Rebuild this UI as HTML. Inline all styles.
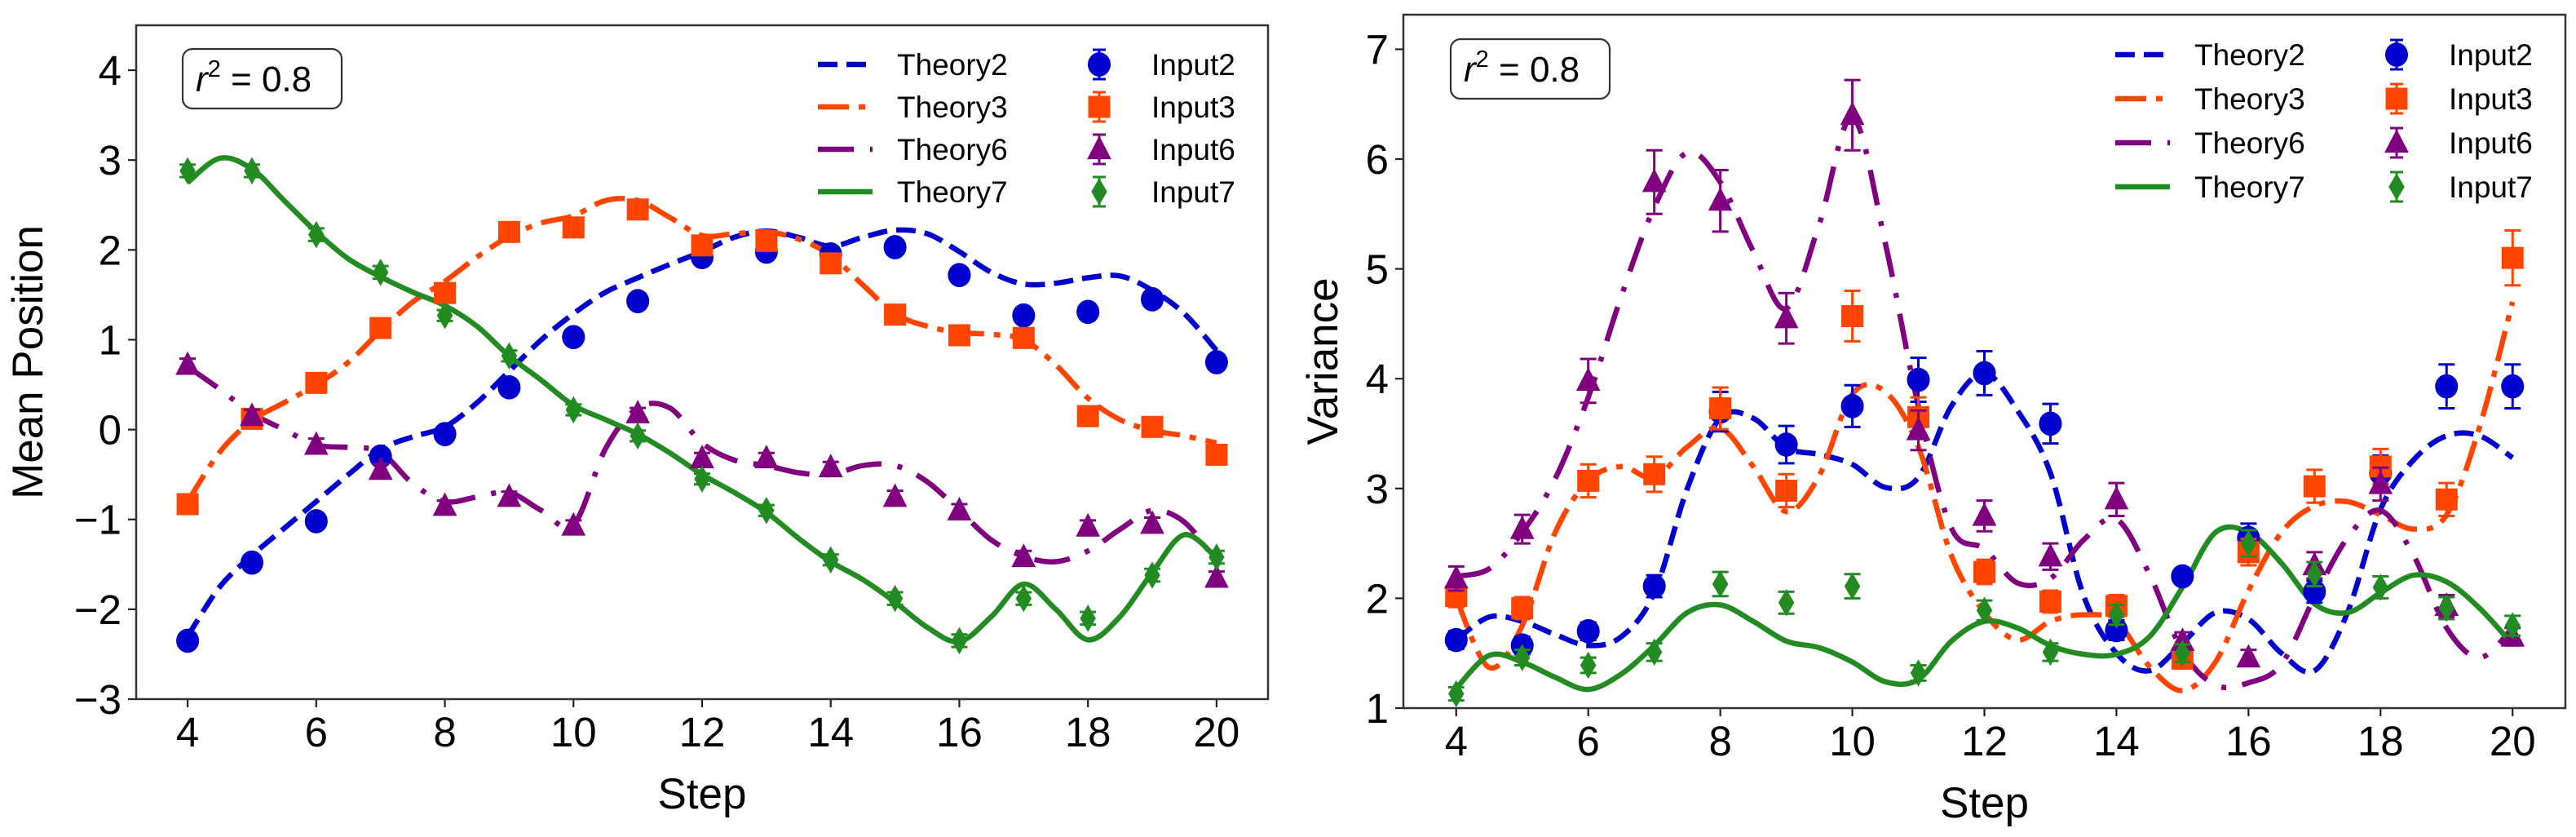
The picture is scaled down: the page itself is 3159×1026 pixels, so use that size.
<!DOCTYPE html>
<html><head><meta charset="utf-8"><style>
html,body{margin:0;padding:0;background:#fff;}
svg{display:block;font-family:"Liberation Sans",sans-serif;}
</style></head><body>
<svg id="fig" width="3159" height="1026" viewBox="0 0 3159 1026" xmlns="http://www.w3.org/2000/svg">
<rect width="3159" height="1026" fill="#fff"/>
</svg>
<script>
const steps = [4,5,6,7,8,9,10,11,12,13,14,15,16,17,18,19,20];
const fineSteps = [4,4.5,5,5.5,6,6.5,7,7.5,8,8.5,9,9.5,10,10.5,11,11.5,12,12.5,13,13.5,14,14.5,15,15.5,16,16.5,17,17.5,18,18.5,19,19.5,20];
const xTicks = [4,6,8,10,12,14,16,18,20];
const meanYTicks = [-3,-2,-1,0,1,2,3,4];
const varYTicks = [1,2,3,4,5,6,7];
const seriesNames = ["Theory2","Theory3","Theory6","Theory7"];
const inputNames = ["Input2","Input3","Input6","Input7"];

// Left panel: mean position
const meanInput2 = [-2.35,-1.48,-1.02,-0.3,-0.05,0.47,1.03,1.43,1.92,1.98,1.95,2.03,1.72,1.27,1.31,1.45,0.75];
const meanInput3 = [-0.83,0.12,0.52,1.13,1.52,2.2,2.25,2.45,2.05,2.1,1.85,1.28,1.05,1.02,0.15,0.03,-0.28];
const meanInput6 = [0.72,0.15,-0.17,-0.45,-0.85,-0.75,-1.07,0.18,-0.32,-0.32,-0.42,-0.75,-0.9,-1.42,-1.08,-1.05,-1.65];
const meanInput7 = [2.88,2.88,2.17,1.75,1.27,0.82,0.22,-0.07,-0.55,-0.9,-1.45,-1.88,-2.35,-1.88,-2.1,-1.62,-1.42];
const meanErr = [0.07,0.07,0.07,0.07,0.06,0.06,0.06,0.06,0.06,0.06,0.06,0.07,0.07,0.07,0.07,0.07,0.07];
const meanTheory2 = [-2.3,-1.75,-1.4,-1.1,-0.8,-0.5,-0.22,-0.08,0.03,0.3,0.65,1.0,1.29,1.53,1.69,1.84,1.98,2.14,2.21,2.14,2.04,2.14,2.22,2.18,1.98,1.75,1.62,1.63,1.69,1.71,1.55,1.29,0.88];
const meanTheory3 = [-0.8,-0.25,0.1,0.3,0.5,0.75,1.1,1.42,1.65,1.92,2.15,2.3,2.38,2.55,2.55,2.36,2.16,2.18,2.2,2.12,1.94,1.61,1.29,1.15,1.08,1.06,1.0,0.72,0.35,0.11,-0.01,-0.07,-0.15];
const meanTheory6 = [0.7,0.45,0.18,0.0,-0.17,-0.2,-0.25,-0.6,-0.8,-0.75,-0.7,-0.9,-1.06,-0.21,0.24,0.24,-0.15,-0.34,-0.4,-0.48,-0.5,-0.4,-0.4,-0.58,-0.9,-1.23,-1.41,-1.47,-1.35,-1.11,-0.9,-1.03,-1.47];
const meanTheory7 = [2.75,3.02,2.9,2.55,2.2,1.9,1.7,1.53,1.38,1.15,0.82,0.55,0.27,0.11,-0.05,-0.26,-0.5,-0.7,-0.92,-1.21,-1.47,-1.67,-1.92,-2.2,-2.36,-2.08,-1.72,-2.0,-2.34,-2.08,-1.59,-1.17,-1.43];

// Right panel: variance
const varInput2 = [1.62,1.57,1.7,2.11,3.7,3.4,3.75,3.99,4.05,3.59,1.71,2.2,2.55,2.06,3.14,3.93,3.93];
const varInput3 = [2.02,1.91,3.07,3.13,3.73,2.98,4.57,3.65,2.24,1.97,1.93,1.45,2.42,3.02,3.2,2.9,5.1];
const varInput6 = [2.18,2.63,3.98,5.79,5.62,4.55,6.4,3.53,2.75,2.38,2.9,1.61,1.46,2.3,3.04,1.93,1.65];
const varInput7 = [1.13,1.46,1.39,1.51,2.13,1.96,2.11,1.32,1.89,1.51,1.85,1.5,2.5,2.22,2.1,1.91,1.75];
const varErr2 = [0.08,0.08,0.08,0.1,0.18,0.17,0.19,0.2,0.2,0.18,0.09,0.07,0.13,0.1,0.16,0.2,0.2];
const varErr3 = [0.1,0.1,0.15,0.16,0.19,0.15,0.23,0.18,0.11,0.1,0.1,0.07,0.12,0.15,0.16,0.15,0.25];
const varErr6 = [0.11,0.13,0.2,0.29,0.28,0.23,0.32,0.18,0.14,0.12,0.15,0.08,0.07,0.12,0.15,0.1,0.08];
const varErr7 = [0.06,0.07,0.07,0.08,0.11,0.1,0.11,0.07,0.09,0.08,0.09,0.08,0.12,0.11,0.1,0.1,0.09];
const varTheory2 = [1.62,1.83,1.79,1.67,1.57,1.65,2.05,3.0,3.64,3.64,3.37,3.31,3.22,3.01,3.1,3.75,4.05,3.71,3.14,2.03,1.5,1.34,1.59,1.87,1.81,1.5,1.34,1.87,2.81,3.26,3.48,3.48,3.28];
const varTheory3 = [2.0,1.37,1.75,2.6,3.07,3.2,3.1,3.38,3.55,3.2,2.79,3.12,3.86,3.88,3.38,2.39,1.87,1.62,1.79,1.85,1.79,1.38,1.16,1.42,2.07,2.6,2.84,2.88,2.76,2.63,2.76,3.56,4.7];
const varTheory6 = [2.2,2.27,2.6,3.09,3.83,4.75,5.56,6.06,5.79,5.16,4.64,5.41,6.38,5.23,3.75,2.64,2.45,2.14,2.18,2.53,2.72,2.22,1.52,1.21,1.23,1.4,2.01,2.55,2.8,2.39,1.73,1.46,1.73];
const varTheory7 = [1.18,1.48,1.42,1.28,1.17,1.31,1.57,1.87,1.94,1.79,1.61,1.55,1.42,1.24,1.26,1.61,1.79,1.73,1.57,1.49,1.49,1.65,2.1,2.6,2.6,2.32,1.95,1.87,2.05,2.21,2.15,1.91,1.58];

const NS = "http://www.w3.org/2000/svg";
const fig = document.getElementById('fig');
const colors = ["#0000CD","#FF4500","#800080","#228B22"];
const dashes = ["24,11","38,12,8,12","44,20,6,20",""];
const markers = ["circle","square","triangle","diamond"];

function mk(tag, attrs, parent){
  const e = document.createElementNS(NS, tag);
  for (const k in attrs) e.setAttribute(k, attrs[k]);
  (parent||fig).appendChild(e);
  return e;
}
function smoothPath(pts){
  let d = "M"+pts[0][0].toFixed(1)+","+pts[0][1].toFixed(1);
  for (let i=0;i<pts.length-1;i++){
    const p0=pts[Math.max(0,i-1)], p1=pts[i], p2=pts[i+1], p3=pts[Math.min(pts.length-1,i+2)];
    const c1x=p1[0]+(p2[0]-p0[0])/6, c1y=p1[1]+(p2[1]-p0[1])/6;
    const c2x=p2[0]-(p3[0]-p1[0])/6, c2y=p2[1]-(p3[1]-p1[1])/6;
    d += " C"+c1x.toFixed(1)+","+c1y.toFixed(1)+" "+c2x.toFixed(1)+","+c2y.toFixed(1)+" "+p2[0].toFixed(1)+","+p2[1].toFixed(1);
  }
  return d;
}
function drawMarker(g, type, cx, cy, color, s){
  let e;
  if (type==="circle") e = mk('ellipse',{cx:cx,cy:cy,rx:s*0.52,ry:s*0.55,fill:color},g);
  else if (type==="square") e = mk('rect',{x:cx-s*0.5,y:cy-s*0.5,width:s,height:s,fill:color},g);
  else if (type==="triangle") e = mk('polygon',{points:`${cx},${cy-s*0.62} ${cx-s*0.55},${cy+s*0.45} ${cx+s*0.55},${cy+s*0.45}`,fill:color},g);
  else e = mk('polygon',{points:`${cx},${cy-s*0.62} ${cx-s*0.36},${cy} ${cx},${cy+s*0.62} ${cx+s*0.36},${cy}`,fill:color},g);
  return e;
}

function panel(cfg){
  const {L,R,T,B,xmin,xmax,ymin,ymax,yTicks,name} = cfg;
  const X = v => L + (v-xmin)/(xmax-xmin)*(R-L);
  const Y = v => B - (v-ymin)/(ymax-ymin)*(B-T);
  const g = mk('g',{});
  
  
  const clipId = name+'-clip';
  const cp = mk('clipPath',{id:clipId},g);
  mk('rect',{x:L,y:T,width:R-L,height:B-T},cp);
  const xt = mk('g',{},g);
  
  
  xTicks.forEach(v=>{
    mk('line',{x1:X(v),x2:X(v),y1:B,y2:B+10,stroke:"#222","stroke-width":2.2},xt);
    const t = mk('text',{x:X(v),y:B+58,"text-anchor":"middle","font-size":51,fill:"#000"},xt);
    t.textContent = String(v);
  });
  const yt = mk('g',{},g);
  
  
  yTicks.forEach(v=>{
    mk('line',{x1:L-10,x2:L,y1:Y(v),y2:Y(v),stroke:"#222","stroke-width":2.2},yt);
    const t = mk('text',{x:L-18,y:Y(v)+18,"text-anchor":"end","font-size":51,fill:"#000"},yt);
    t.textContent = v<0 ? "\u2212"+Math.abs(v) : String(v);
  });
  const xl = mk('text',{x:(L+R)/2,y:B+134,"text-anchor":"middle","font-size":53,fill:"#000"},g);
  
  
  xl.textContent = "Step";
  const yl = mk('text',{x:0,y:0,"text-anchor":"middle","font-size":53,fill:"#000",transform:`translate(${cfg.ylabX},${(T+B)/2}) rotate(-90)`},g);
  
  
  yl.textContent = cfg.ylabel;
  const lines = mk('g',{"clip-path":`url(#${clipId})`},g);
  cfg.theory.forEach((arr,i)=>{
    const pts = fineSteps.map((s,j)=>[X(s),Y(arr[j])]);
    const p = mk('path',{d:smoothPath(pts),fill:"none",stroke:colors[i],"stroke-width":6.5,"stroke-dasharray":dashes[i]||"none"},lines);
    
    
  });
  cfg.inputs.forEach((arr,i)=>{
    const sg = mk('g',{},g);
    
    
    arr.forEach((v,j)=>{
      const e = cfg.errs[i][j];
      const cx = X(steps[j]), y1 = Y(v+e), y2 = Y(v-e);
      mk('line',{x1:cx,x2:cx,y1:y1,y2:y2,stroke:colors[i],"stroke-width":3},sg);
      mk('line',{x1:cx-10,x2:cx+10,y1:y1,y2:y1,stroke:colors[i],"stroke-width":3},sg);
      mk('line',{x1:cx-10,x2:cx+10,y1:y2,y2:y2,stroke:colors[i],"stroke-width":3},sg);
      const m = drawMarker(sg, markers[i], cx, Y(v), colors[i], 27);
      
      
    });
  });
  const fr = mk('rect',{x:L,y:T,width:R-L,height:B-T,fill:"none",stroke:"#333","stroke-width":2.5},g);
  
  
  const bx = mk('g',{},g);
  
  
  mk('rect',{x:cfg.box[0],y:cfg.box[1],width:195,height:73,rx:12,fill:"#fff",stroke:"#333","stroke-width":2.2},bx);
  const bt = mk('text',{x:cfg.box[0]+16,y:cfg.box[1]+52,"font-size":44,fill:"#000"},bx);
  bt.innerHTML = '<tspan font-style="italic">r</tspan><tspan font-size="29" dy="-18">2</tspan><tspan dy="18"> = 0.8</tspan>';
  const lg = mk('g',{},g);
  
  
  const lx = R - 552;
  cfg.legRows.forEach((ry,i)=>{
    const le = mk('g',{},lg);
    
    
    mk('line',{x1:lx,x2:lx+67,y1:ry,y2:ry,stroke:colors[i],"stroke-width":6.5,"stroke-dasharray":dashes[i]||"none"},le);
    const t = mk('text',{x:lx+97,y:ry+13,"font-size":37,fill:"#000"},le);
    t.textContent = seriesNames[i];
    const le2 = mk('g',{},lg);
    
    
    const mx = lx+345;
    mk('line',{x1:mx,x2:mx,y1:ry-18,y2:ry+18,stroke:colors[i],"stroke-width":3},le2);
    mk('line',{x1:mx-8,x2:mx+8,y1:ry-18,y2:ry-18,stroke:colors[i],"stroke-width":3},le2);
    mk('line',{x1:mx-8,x2:mx+8,y1:ry+18,y2:ry+18,stroke:colors[i],"stroke-width":3},le2);
    drawMarker(le2, markers[i], mx, ry, colors[i], 27);
    const t2 = mk('text',{x:lx+409,y:ry+13,"font-size":37,fill:"#000"},le2);
    t2.textContent = inputNames[i];
  });
}

panel({name:"mean",L:167,R:1555,T:31,B:857,xmin:3.2,xmax:20.8,ymin:-3,ymax:4.5,yTicks:meanYTicks,
  ylabel:"Mean Position",ylabX:52,box:[224,60],legRows:[79,131,183,235],
  theory:[meanTheory2,meanTheory3,meanTheory6,meanTheory7],
  inputs:[meanInput2,meanInput3,meanInput6,meanInput7],
  errs:[meanErr,meanErr,meanErr,meanErr]});
panel({name:"variance",L:1721,R:3146,T:18,B:868,xmin:3.2,xmax:20.8,ymin:1,ymax:7.315,yTicks:varYTicks,
  ylabel:"Variance",ylabX:1640,box:[1779,48],legRows:[67,121,175,229],
  theory:[varTheory2,varTheory3,varTheory6,varTheory7],
  inputs:[varInput2,varInput3,varInput6,varInput7],
  errs:[varErr2,varErr3,varErr6,varErr7]});
</script>
</body></html>
